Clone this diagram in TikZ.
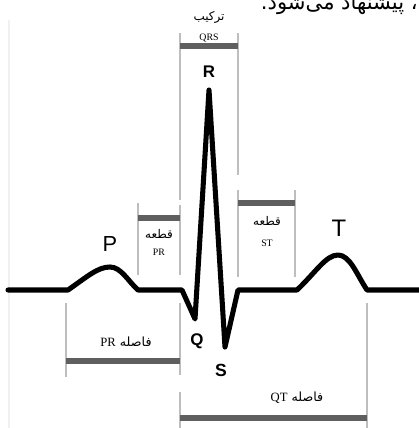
\documentclass[tikz,border=0pt]{standalone}
\usepackage{fontspec}
\setmainfont{Liberation Serif}
\newfontfamily\farsi[Script=Arabic]{DejaVu Sans}
\newfontfamily\latinsans{Liberation Sans}
\TeXXeTstate=1
\usepackage{tikz}
\usetikzlibrary{positioning}
\definecolor{BarGray}{RGB}{95,95,95}
\definecolor{MidGray}{RGB}{190,190,190}
\definecolor{EdgeGray}{RGB}{240,240,240}

\begin{document}
\begin{tikzpicture}[x=0.025cm, y=-0.025cm,
  wave/.style={line width=3.6pt, line join=round, line cap=round},
  guide/.style={MidGray, line width=1pt},
  bar/.style={BarGray, line width=3.6pt},
  peak/.style={inner sep=0pt, font=\latinsans\fontsize{#1}{#1}\selectfont},
  peakb/.style={inner sep=0pt, font=\latinsans\bfseries\fontsize{#1}{#1}\selectfont},
  fa/.style={inner sep=0pt, font=\farsi\fontsize{#1}{#1}\selectfont},
  en/.style={inner sep=0pt, font=\fontsize{#1}{#1}\selectfont}]
  \useasboundingbox (0,0) rectangle (419,428);

  % cut-off line of the page text above
  \node[fa=15, anchor=base east] (pagetext) at (418,9)
    {\beginR ، پیشنهاد می‌شود.\endR};

  % faint left edge
  \draw[EdgeGray, line width=0.8pt] (9,20) -- (9,428);

  % guide lines
  \draw[guide] (180,33) -- (180,200);   % QRS
  \draw[guide] (238,33) -- (238,175);
  \draw[guide] (138,203) -- (138,275);  % PR segment
  \draw[guide] (180,205) -- (180,275);
  \draw[guide] (238,190) -- (238,277);  % ST segment
  \draw[guide] (295,190) -- (295,277);
  \draw[guide] (66,303) -- (66,377);    % PR interval
  \draw[guide] (180,303) -- (180,375);
  \draw[guide] (180,392) -- (180,428);  % QT interval
  \draw[guide] (367,303) -- (367,428);

  % bars
  \foreach \xa/\xb/\yb in {180/238/46, 138/180/218, 238/295/203,
                          66/180/361, 180/367/418}{
    \draw[bar] (\xa,\yb) -- (\xb,\yb);
  }

  % the trace
  \draw[wave] (8,290) -- (68,290)
    .. controls (88,276) and (98,267) .. (110,267)
    .. controls (121,267) and (128,281) .. (138,290)
    -- (182,290) -- (195,319) -- (209,90) -- (225,347) -- (238,290)
    -- (297,290)
    .. controls (316,272) and (326,255) .. (338,255)
    .. controls (350,255) and (357,275) .. (367,290)
    -- (419,290);

  % wave labels
  \node[peak=15.5] (plbl) at (110,244) {P};
  \node[peak=17]   (tlbl) at (339,228) {T};
  \node[peakb=12]  (rlbl) at (209,72)  {R};
  \node[peakb=12]  (qlbl) at (197,341) {Q};
  \node[peakb=12.5] (slbl) at (221,370) {S};

  % interval labels
  \node[fa=8.5] (qrsfa) at (209,17) {\beginR ترکیب\endR};
  \node[en=7]   (qrsen) at (209,38) {QRS};
  \node[fa=8.5] (prsegfa) at (159,234) {\beginR قطعه\endR};
  \node[en=7]   (prsegen) at (159,252) {PR};
  \node[fa=8.5] (stsegfa) at (267,221) {\beginR قطعه\endR};
  \node[en=7]   (stsegen) at (267,243) {ST};
  \node[fa=9]   (print) at (126,342)
    {\beginR فاصله \beginL{\rmfamily PR}\endL\endR};
  \node[fa=9]   (qtint) at (297,398)
    {\beginR فاصله \beginL{\rmfamily QT}\endL\endR};
\end{tikzpicture}
\end{document}
